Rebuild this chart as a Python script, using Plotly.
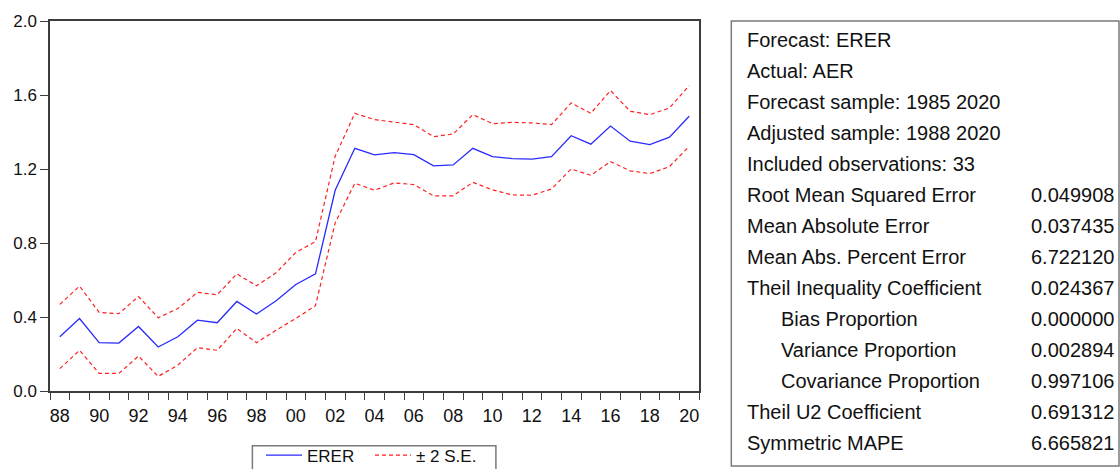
import plotly.graph_objects as go

years = list(range(1988, 2021))
erer = [0.293, 0.392, 0.261, 0.259, 0.349, 0.238, 0.293, 0.383, 0.369, 0.484,
        0.416, 0.488, 0.576, 0.633, 1.085, 1.312, 1.276, 1.289, 1.278, 1.217,
        1.222, 1.312, 1.267, 1.256, 1.253, 1.267, 1.380, 1.334, 1.432, 1.350,
        1.332, 1.372, 1.485]
upper = [0.468, 0.567, 0.425, 0.418, 0.511, 0.396, 0.446, 0.533, 0.520, 0.633,
         0.569, 0.639, 0.749, 0.808, 1.269, 1.501, 1.467, 1.452, 1.440, 1.375,
         1.389, 1.494, 1.445, 1.452, 1.449, 1.440, 1.557, 1.501, 1.624, 1.512,
         1.494, 1.530, 1.651]
lower = [0.121, 0.220, 0.095, 0.095, 0.189, 0.079, 0.140, 0.234, 0.220, 0.338,
         0.261, 0.329, 0.392, 0.461, 0.909, 1.123, 1.085, 1.125, 1.116, 1.055,
         1.055, 1.128, 1.087, 1.060, 1.058, 1.092, 1.200, 1.166, 1.240, 1.190,
         1.175, 1.213, 1.323]

xtick_vals = list(range(1988, 2021, 2))
xtick_text = [f"{y % 100:02d}" for y in xtick_vals]
ytick_vals = [0.0, 0.4, 0.8, 1.2, 1.6, 2.0]
ytick_text = ["0.0", "0.4", "0.8", "1.2", "1.6", "2.0"]

stat_labels = ["Forecast: ERER", "Actual: AER", "Forecast sample: 1985 2020",
               "Adjusted sample: 1988 2020", "Included observations: 33",
               "Root Mean Squared Error", "Mean Absolute Error",
               "Mean Abs. Percent Error", "Theil Inequality Coefficient",
               "Bias Proportion", "Variance Proportion", "Covariance Proportion",
               "Theil U2 Coefficient", "Symmetric MAPE"]
stat_values = ["", "", "", "", "", "0.049908", "0.037435", "6.722120", "0.024367",
               "0.000000", "0.002894", "0.997106", "0.691312", "6.665821"]
stat_indent = [False] * 9 + [True, True, True] + [False, False]

W, H = 1120, 469
L, R, T, B = 50, 698.7, 20.7, 391.0
pw, ph = R - L, B - T

def px(x):
    return (x - L) / pw

def py(y):
    return (B - y) / ph

FONT = "Liberation Sans, Arial, sans-serif"
AX = "#3c3c3c"

fig = go.Figure()
fig.add_trace(go.Scatter(x=years, y=erer, mode="lines", name="ERER",
                         line=dict(color="#2a2aff", width=1.3)))
fig.add_trace(go.Scatter(x=years, y=upper, mode="lines", name="± 2 S.E.",
                         legendgroup="se",
                         line=dict(color="#ff2020", width=1.2, dash="4px,3px")))
fig.add_trace(go.Scatter(x=years, y=lower, mode="lines", name="± 2 S.E.",
                         legendgroup="se", showlegend=False,
                         line=dict(color="#ff2020", width=1.2, dash="4px,3px")))

fig.update_xaxes(range=[1987.5, 2020.5], tickvals=xtick_vals, ticktext=xtick_text,
                 ticks="outside", ticklen=8, tickcolor="rgba(0,0,0,0)",
                 showline=True, mirror=True, linecolor=AX, linewidth=1.5,
                 showgrid=False, zeroline=False,
                 tickfont=dict(family=FONT, size=18, color="#111"),
                 minor=dict(tickvals=[y - 0.5 for y in years] + [2020.5],
                            ticks="outside", ticklen=7, tickcolor=AX, tickwidth=1,
                            showgrid=False))
fig.update_yaxes(range=[0, 2], tickvals=ytick_vals, ticktext=ytick_text,
                 ticks="outside", ticklen=8, tickcolor=AX, tickwidth=1,
                 showline=True, mirror=True, linecolor=AX, linewidth=1.5,
                 showgrid=False, zeroline=False,
                 tickfont=dict(family=FONT, size=17, color="#111"))

shapes = [
    dict(type="rect", xref="paper", yref="paper",
         x0=px(731), x1=px(1118.5), y0=py(466), y1=py(20.7),
         line=dict(color="#7a7a7a", width=1.5), fillcolor="rgba(0,0,0,0)"),
    dict(type="rect", xref="paper", yref="paper",
         x0=px(252.3), x1=px(495.7), y0=py(480), y1=py(445.7),
         line=dict(color="#7a7a7a", width=1.5), fillcolor="rgba(0,0,0,0)"),
]
annotations = []
for i, (lab, val, ind) in enumerate(zip(stat_labels, stat_values, stat_indent)):
    yc = 40 + 31 * i
    annotations.append(dict(xref="paper", yref="paper", x=px(779 if ind else 745),
                            y=py(yc), text=lab, showarrow=False, xanchor="left",
                            yanchor="middle",
                            font=dict(family=FONT, size=20, color="#111")))
    if val:
        annotations.append(dict(xref="paper", yref="paper", x=px(1116), y=py(yc),
                                text=val, showarrow=False, xanchor="right",
                                yanchor="middle",
                                font=dict(family=FONT, size=20, color="#111")))

fig.update_layout(
    width=W, height=H,
    margin=dict(l=L, r=W - R, t=T, b=H - B, autoexpand=False),
    paper_bgcolor="white", plot_bgcolor="white",
    shapes=shapes, annotations=annotations,
    legend=dict(orientation="h", xref="container", yref="container",
                x=261 / W, y=1 - 437.5 / H, xanchor="left", yanchor="top",
                borderwidth=0, bgcolor="rgba(0,0,0,0)",
                font=dict(family=FONT, size=17, color="#111"),
                itemwidth=36, entrywidth=58, entrywidthmode="pixels"),
)

fig.write_html("out.html", config={"displayModeBar": False},
               post_script="document.body.style.margin='0';document.body.style.overflow='hidden';")
